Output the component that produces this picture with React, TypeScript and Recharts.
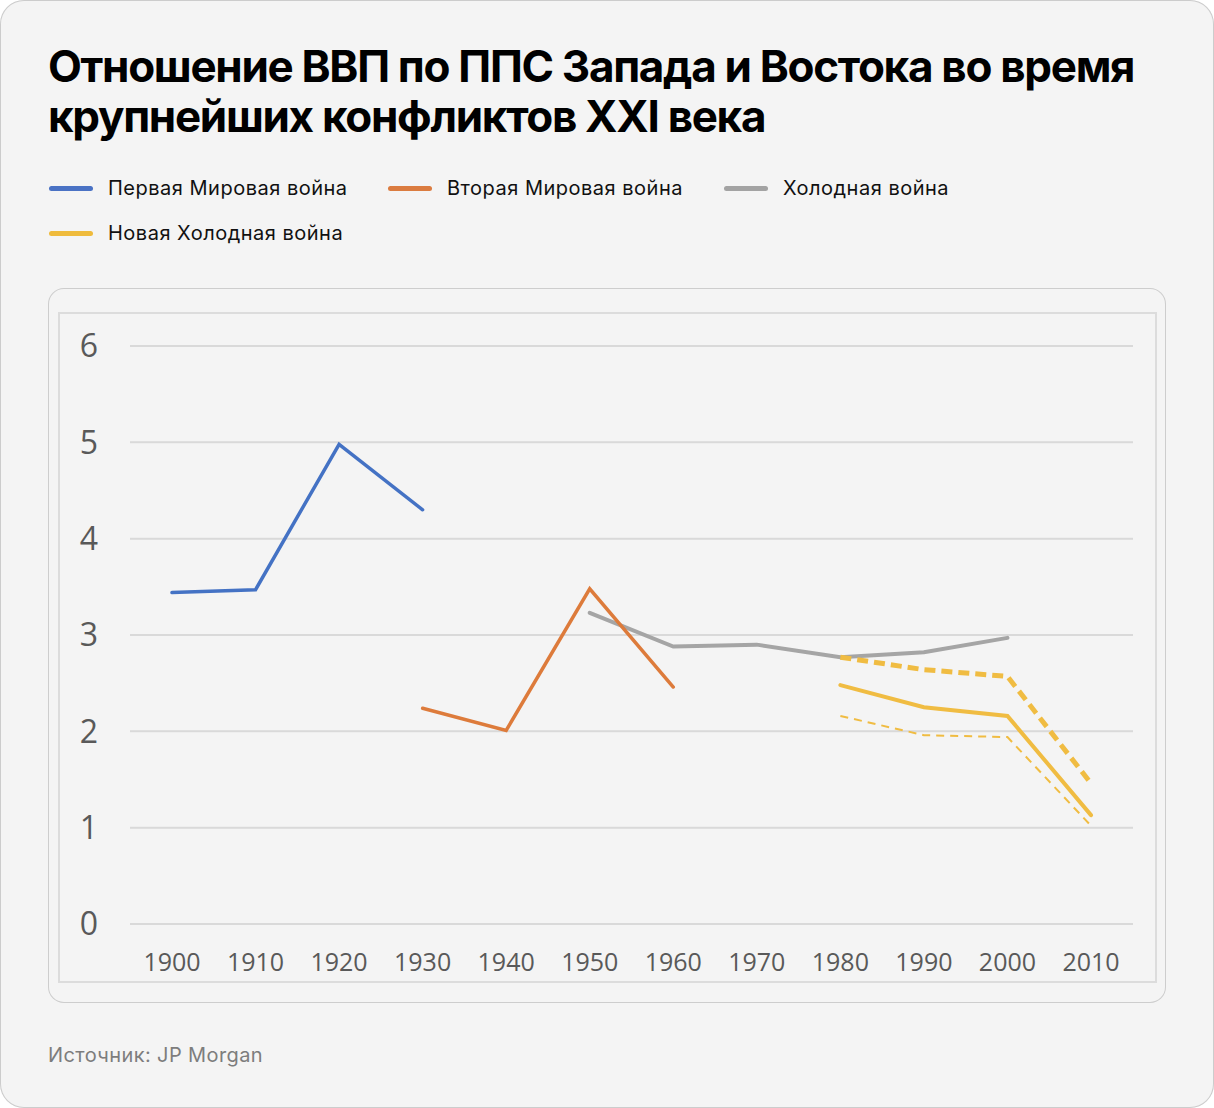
import React from 'react';
import { LineChart, Line, XAxis, YAxis, CartesianGrid } from 'recharts';

const title = 'Отношение ВВП по ППС Запада и Востока во время крупнейших конфликтов XXI века';
const source = 'Источник: JP Morgan';

const years = ['1900', '1910', '1920', '1930', '1940', '1950', '1960', '1970', '1980', '1990', '2000', '2010'];
const yTicks = [0, 1, 2, 3, 4, 5, 6];

const ww1 = [3.44, 3.47, 4.98, 4.3, null, null, null, null, null, null, null, null];
const ww2 = [null, null, null, 2.24, 2.01, 3.48, 2.46, null, null, null, null, null];
const coldWar = [null, null, null, null, null, 3.23, 2.88, 2.9, 2.77, 2.82, 2.97, null];
const newCold = [null, null, null, null, null, null, null, null, 2.48, 2.25, 2.16, 1.13];
const newColdHigh = [null, null, null, null, null, null, null, null, 2.77, 2.64, 2.57, 1.46];
const newColdLow = [null, null, null, null, null, null, null, null, 2.16, 1.96, 1.94, 1.02];

const legendItems = [
  { name: 'Первая Мировая война', color: '#4A72C4' },
  { name: 'Вторая Мировая война', color: '#DB7C40' },
  { name: 'Холодная война', color: '#A3A3A3' },
  { name: 'Новая Холодная война', color: '#EFBB3C' },
];

const data = years.map((y, i) => ({
  year: y,
  ww1: ww1[i],
  ww2: ww2[i],
  cold: coldWar[i],
  ncold: newCold[i],
  ncoldHigh: newColdHigh[i],
  ncoldLow: newColdLow[i],
}));

const legendPos = [
  { left: 49, top: 188 },
  { left: 388, top: 188 },
  { left: 724, top: 188 },
  { left: 49, top: 233 },
];

export default function App() {
  return (
    <div
      style={{
        position: 'absolute',
        left: 0,
        top: 0,
        width: 1214,
        height: 1108,
        background: '#f4f4f4',
        borderRadius: 24,
        boxShadow: 'inset 0 0 0 1px #cccccc',
        overflow: 'hidden',
        fontFamily: 'Inter, "Noto Sans", sans-serif',
      }}
    >
      <div
        style={{
          position: 'absolute',
          left: 48,
          top: 41,
          width: 1120,
          fontSize: 44,
          lineHeight: '50px',
          fontWeight: 700,
          letterSpacing: -1.3,
          color: '#000',
        }}
      >
        {title}
      </div>

      {legendItems.map((it, i) => (
        <div
          key={it.name}
          style={{
            position: 'absolute',
            left: legendPos[i].left,
            top: legendPos[i].top - 15,
            height: 30,
            display: 'flex',
            alignItems: 'center',
            fontSize: 20,
            letterSpacing: 0.5,
            color: '#111',
            whiteSpace: 'nowrap',
          }}
        >
          <div style={{ width: 44, height: 5, borderRadius: 3, background: it.color, marginRight: 15 }} />
          <span>{it.name}</span>
        </div>
      ))}

      <div
        style={{
          position: 'absolute',
          left: 48,
          top: 288,
          width: 1118,
          height: 715,
          borderRadius: 16,
          boxShadow: 'inset 0 0 0 1px #cdcdcd',
          boxSizing: 'border-box',
        }}
      />
      <div
        style={{
          position: 'absolute',
          left: 58,
          top: 312,
          width: 1099,
          height: 671,
          border: '2px solid #dcdcdc',
          boxSizing: 'border-box',
        }}
      />

      <div style={{ position: 'absolute', left: 0, top: 0 }}>
        <LineChart
          width={1214}
          height={1108}
          data={data}
          margin={{ top: 346, right: 81, bottom: 124, left: 30 }}
        >
          <CartesianGrid vertical={false} stroke="#d9d9d9" strokeWidth={2} />
          <XAxis
            dataKey="year"
            axisLine={false}
            tickLine={false}
            tickMargin={23}
            height={60}
            interval={0}
            padding={{ left: 42, right: 42 }}
            tick={{ fill: '#595959', fontSize: 25, fontFamily: '"Open Sans", sans-serif' }}
          />
          <YAxis
            domain={[0, 6]}
            ticks={yTicks}
            axisLine={false}
            tickLine={false}
            width={100}
            tickMargin={26}
            interval={0}
            tick={{ fill: '#595959', fontSize: 32, fontFamily: '"Open Sans", sans-serif' }}
          />
          <Line dataKey="cold" stroke="#A5A5A5" strokeWidth={4} dot={false} isAnimationActive={false} strokeLinecap="round" />
          <Line dataKey="ww1" stroke="#4472C4" strokeWidth={3.5} dot={false} isAnimationActive={false} strokeLinecap="round" />
          <Line dataKey="ww2" stroke="#DD7B3B" strokeWidth={3.5} dot={false} isAnimationActive={false} strokeLinecap="round" />
          <Line dataKey="ncoldLow" stroke="#F0BC42" strokeWidth={2} strokeDasharray="8 6" dot={false} isAnimationActive={false} />
          <Line dataKey="ncoldHigh" stroke="#F0BC42" strokeWidth={5} strokeDasharray="11 6" dot={false} isAnimationActive={false} />
          <Line dataKey="ncold" stroke="#F0BC42" strokeWidth={4} dot={false} isAnimationActive={false} strokeLinecap="round" />
        </LineChart>
      </div>

      <div
        style={{
          position: 'absolute',
          left: 48,
          top: 1043,
          fontSize: 20,
          letterSpacing: 0.4,
          color: '#7d7d7d',
          whiteSpace: 'nowrap',
        }}
      >
        {source}
      </div>
    </div>
  );
}
